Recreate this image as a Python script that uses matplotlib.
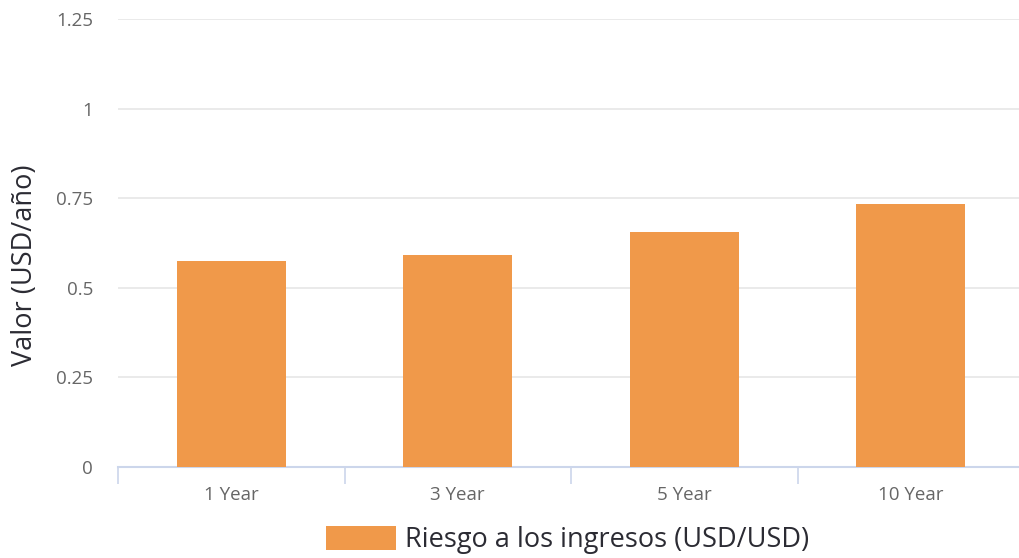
import matplotlib; matplotlib.use("Agg")
import matplotlib.pyplot as plt
from matplotlib.patches import Patch

categories = ["1 Year", "3 Year", "5 Year", "10 Year"]
values = [0.575, 0.591, 0.656, 0.734]
yticks = [0, 0.25, 0.5, 0.75, 1, 1.25]
ytick_labels = ["0", "0.25", "0.5", "0.75", "1", "1.25"]
series_name = "Riesgo a los ingresos (USD/USD)"

plt.rcParams["font.family"] = ["Open Sans", "DejaVu Sans"]

fig = plt.figure(figsize=(10.19, 5.58), dpi=100)
ax = fig.add_axes([118 / 1019, 1 - 467 / 558, 906 / 1019, 448 / 558])

bar_color = "#f0994a"
x = list(range(len(categories)))
ax.bar(x, values, width=0.48, color=bar_color, zorder=3)

ax.set_xlim(-0.5, len(categories) - 0.5)
ax.set_ylim(0, 1.25)
ax.set_yticks(yticks)
ax.set_yticklabels(ytick_labels)
ax.set_xticks(x)
ax.set_xticklabels(categories)
ax.set_xticks([i - 0.5 for i in range(len(categories) + 1)], minor=True)

ax.grid(axis="y", color="#e6e6e6", linewidth=1.2, zorder=0)
for s in ["top", "right", "left"]:
    ax.spines[s].set_visible(False)
ax.spines["bottom"].set_color("#ccd6eb")
ax.spines["bottom"].set_linewidth(1.5)

ax.tick_params(axis="x", which="major", length=0, pad=14, labelsize=13.5, labelcolor="#666666")
ax.tick_params(axis="x", which="minor", length=12, width=1.2, color="#ccd6eb")
ax.tick_params(axis="y", length=0, pad=18, labelsize=13.5, labelcolor="#666666")

ax.set_ylabel("Valor (USD/año)", fontsize=19.5, color="#2b2b33", va="center")
ax.yaxis.set_label_coords(-93 / 906, 202 / 448)

handle = Patch(facecolor=bar_color, edgecolor="none")
fig.legend([handle], [series_name], loc="center", bbox_to_anchor=(0.557, 0.032),
           frameon=False, fontsize=19.5, handlelength=2.6, handleheight=1.0,
           handletextpad=0.35, labelcolor="#2b2b33")

fig.savefig("out.png", dpi=100)
